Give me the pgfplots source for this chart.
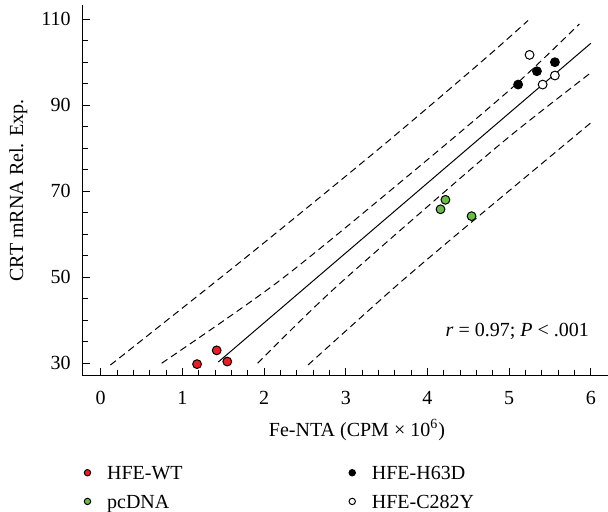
\documentclass[border=0pt]{standalone}
\usepackage{fontspec}
\setmainfont{Liberation Serif}
\usepackage{pgfplots}
\pgfplotsset{compat=1.18}
\usetikzlibrary{calc}
\definecolor{wtRed}{RGB}{237,28,36}
\definecolor{pcGreen}{RGB}{106,189,69}
\pgfplotsset{
  dashline/.style={black, line width=0.5pt, dash pattern=on 3.5pt off 2.2pt, no marks, smooth, forget plot},
}
\begin{document}
\fontsize{10}{12}\selectfont
\begin{tikzpicture}
\begin{axis}[
  scale only axis, width=262.9pt, height=185.4pt,
  xmin=-0.225, xmax=6.21, ymin=27.1, ymax=113.3,
  axis lines=left, axis line style={-, line width=0.6pt},
  xtick={0,1,2,3,4,5,6}, ytick={30,50,70,90,110},
  minor xtick={0.2,0.4,0.6,0.8,1.2,1.4,1.6,1.8,2.2,2.4,2.6,2.8,3.2,3.4,3.6,3.8,4.2,4.4,4.6,4.8,5.2,5.4,5.6,5.8},
  minor ytick={35,40,45,55,60,65,75,80,85,95,100,105},
  tick style={black, line width=0.5pt},
  major tick length=4pt, minor tick length=2.8pt,
  tick align=inside,
  /pgf/number format/assume math mode=true,
  ticklabel style={font=\fontsize{10}{12}\selectfont},
  xticklabel shift=4.4pt, yticklabel shift=2.3pt,
  xlabel={Fe-NTA (CPM × 10\textsuperscript{6})},
  ylabel={CRT mRNA Rel. Exp.},
  every axis x label/.style={at={(axis description cs:0.5225,0)}, anchor=center, yshift=-27.15pt},
  every axis y label/.style={at={(axis description cs:0,0.5)}, rotate=90, anchor=center, yshift=32pt},
  legend columns=2,
  legend image code/.code={\path (-2pt,0pt) (9.65pt,0pt); \draw[#1, mark size=1.6pt] plot coordinates {(0pt,3.3pt)};},
  legend style={draw=none, fill=none, inner sep=0pt,
    at={(axis description cs:0,0)}, anchor=north west, xshift=0.2pt, yshift=-44.6pt,
    row sep=5.35pt,
    nodes={inner sep=0pt, text height=7pt, text depth=2pt, anchor=base west}},
]
% fitted line and bands
\addplot[black, line width=0.5pt, no marks, forget plot] coordinates {(1.44,30.3) (6.0,104.4)};
\addplot[dashline] coordinates {(0.119,29.6) (0.38,33.5) (1.849,55.7) (3.44,80.4) (4.685,100.5) (5.232,109.7)};
\addplot[dashline] coordinates {(0.746,30.0) (2.175,49.0) (3.726,73.0) (5.033,94.0) (5.86,108.9)};
\addplot[dashline] coordinates {(1.921,30.0) (2.85,47.2) (4.40,73.0) (5.113,84.4) (6.01,97.7)};
\addplot[dashline] coordinates {(2.538,29.6) (3.583,47.4) (4.40,60.6) (6.025,86.3)};
% groups
\addplot[only marks, mark=*, mark size=2.2pt, mark options={fill=wtRed, draw=black, line width=0.5pt}]
  coordinates {(1.18,29.8) (1.42,33.0) (1.55,30.4)};
\addlegendentry{\makebox[120.35pt][l]{HFE-WT}}
\addplot[only marks, mark=*, mark size=2.2pt, mark options={fill=black, draw=black, line width=0.5pt}]
  coordinates {(5.11,94.8) (5.34,97.9) (5.56,100.0)};
\addlegendentry{HFE-H63D}
\addplot[only marks, mark=*, mark size=2.2pt, mark options={fill=pcGreen, draw=black, line width=0.5pt}]
  coordinates {(4.16,65.8) (4.22,68.0) (4.54,64.2)};
\addlegendentry{\makebox[120.35pt][l]{pcDNA}}
\addplot[only marks, mark=*, mark size=2.2pt, mark options={fill=white, draw=black, line width=0.5pt}]
  coordinates {(5.25,101.7) (5.41,94.8) (5.56,96.9)};
\addlegendentry{HFE-C282Y}
\node[anchor=east, inner sep=0pt] at (axis cs:5.98,37.5) {\textit{r} = 0.97; \textit{P} < .001};
\coordinate (bl) at (rel axis cs:0,0);
\coordinate (tr) at (rel axis cs:1,1);
\end{axis}
\pgfresetboundingbox
\path ($(bl)+(-41.15pt,-67.65pt)$) rectangle ($(tr)+(0pt,2.5pt)$);
\end{tikzpicture}
\end{document}
